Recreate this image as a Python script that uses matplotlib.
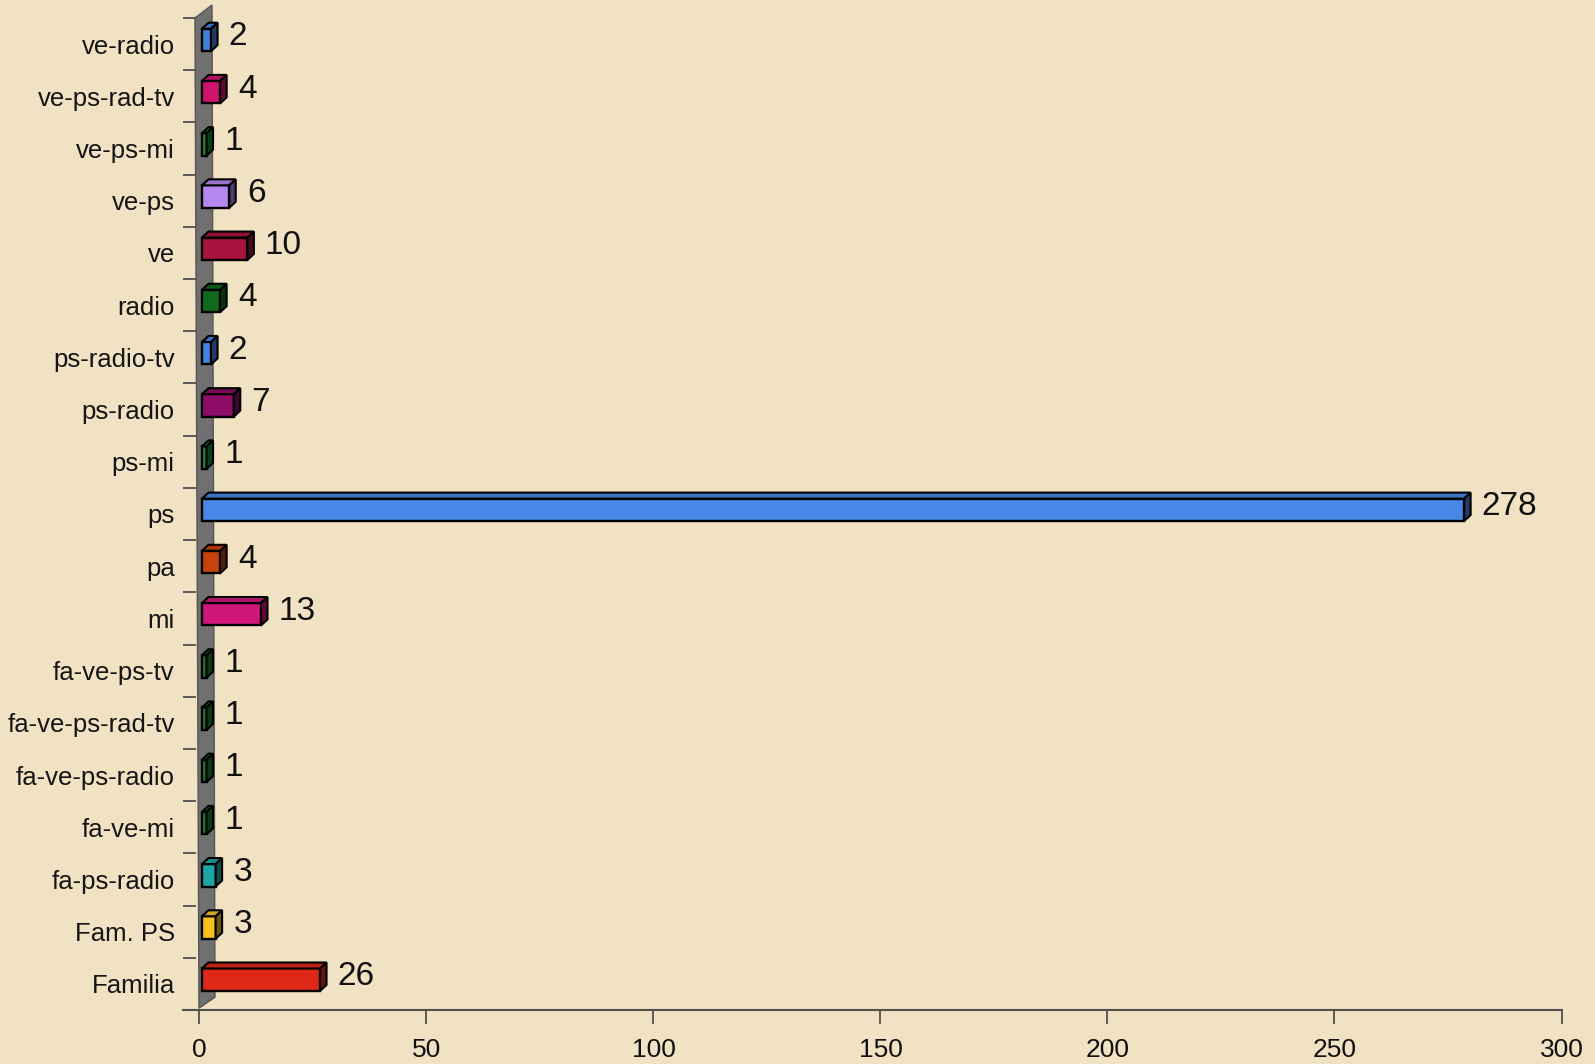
import matplotlib.pyplot as plt
from matplotlib.patches import Polygon
from matplotlib.colors import to_rgb
import numpy as np

plt.rcParams['font.family'] = ['Liberation Sans', 'DejaVu Sans']

# data, top to bottom as in the picture
categories = ['ve-radio', 've-ps-rad-tv', 've-ps-mi', 've-ps', 've', 'radio',
              'ps-radio-tv', 'ps-radio', 'ps-mi', 'ps', 'pa', 'mi',
              'fa-ve-ps-tv', 'fa-ve-ps-rad-tv', 'fa-ve-ps-radio', 'fa-ve-mi',
              'fa-ps-radio', 'Fam. PS', 'Familia']
values = [2, 4, 1, 6, 10, 4, 2, 7, 1, 278, 4, 13, 1, 1, 1, 1, 3, 3, 26]
colors = ['#4282dc', '#d0146e', '#1f8a30', '#b488ee', '#a8123e', '#0f6a1c',
          '#4286e0', '#8c0c66', '#23883a', '#4a88e8', '#c8420e', '#d0167a',
          '#1e7a2a', '#1e7a2a', '#1e7a2a', '#1e7a2a', '#1ea6a6', '#f6c020',
          '#e02818']
xticks = [0, 50, 100, 150, 200, 250, 300]

bg = '#f0e2c2'
W, H = 1595, 1064
fig = plt.figure(figsize=(W / 100, H / 100), dpi=100, facecolor=bg)
ax = fig.add_axes([183 / W, 1 - 1010 / H, (1561.5 - 183) / W, (1010 - 18) / H])
ax.set_facecolor('none')

n = len(categories)
ax.set_xlim(-3.63, 300)
ax.set_ylim(n - 0.5, -0.5)

# pixel -> data helpers (for the 3d decoration only)
ppx = (1561.5 - 199.5) / 300.0
ppy = 52.2


def px(x):
    return (x - 199.5) / ppx


def py(y):
    return (y - 18) / ppy - 0.5


# grey side wall
wall = Polygon([(px(195), py(18)), (px(212), py(5)), (px(215), py(997)),
                (px(199), py(1008))], closed=True, facecolor='#707070',
               edgecolor='#555555', lw=1, clip_on=False, zorder=1)
ax.add_patch(wall)

# 3d bars
x0 = px(202)
dx = 6.5 / ppx
dy = 6 / ppy
h = 0.43
shift = 0.08
for i, (v, c) in enumerate(zip(values, colors)):
    yc = i - shift
    rgb = np.array(to_rgb(c))
    ax.barh(yc, v, height=h, left=x0, color=c, edgecolor='black', lw=1.7,
            zorder=3)
    xe = x0 + v
    top = Polygon([(x0, yc - h / 2), (x0 + dx, yc - h / 2 - dy),
                   (xe + dx, yc - h / 2 - dy), (xe, yc - h / 2)],
                  facecolor=rgb * 0.85, edgecolor='black', lw=1.5, zorder=3)
    side = Polygon([(xe, yc - h / 2), (xe + dx, yc - h / 2 - dy),
                    (xe + dx, yc + h / 2 - dy), (xe, yc + h / 2)],
                   facecolor=rgb * 0.45, edgecolor='black', lw=1.5, zorder=3)
    ax.add_patch(top)
    ax.add_patch(side)
    ax.annotate(str(v), xy=(xe + dx, yc - dy / 2), xytext=(8, 0),
                textcoords='offset points', ha='left', va='center',
                fontsize=24, color='#111111', zorder=4)

# axes styling
for s in ['top', 'right', 'left']:
    ax.spines[s].set_visible(False)
ax.spines['bottom'].set_color('#505050')
ax.spines['bottom'].set_linewidth(1.5)

ax.set_xticks(xticks)
ax.set_xticklabels([str(t) for t in xticks], fontsize=19, color='#111111')
ax.tick_params(axis='x', length=10, width=1.3, color='#505050', pad=10)

ax.set_yticks(range(n))
ax.set_yticklabels(categories, fontsize=18.5, color='#151515')
ax.set_yticks(np.arange(-0.5, n - 1, 1.0), minor=True)
ax.tick_params(axis='y', which='major', length=0, pad=6)
ax.tick_params(axis='y', which='minor', direction='in', length=9,
               width=1.3, color='#505050')

fig.savefig('out.png', dpi=100, facecolor=bg)
